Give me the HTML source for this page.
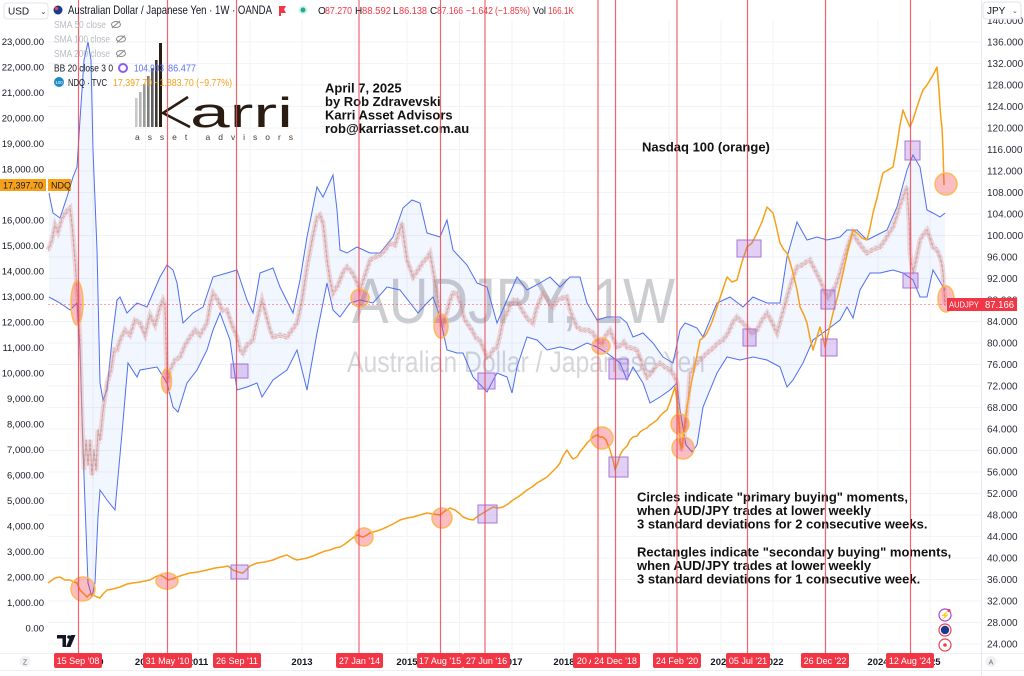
<!DOCTYPE html>
<html><head><meta charset="utf-8"><style>
html,body{margin:0;padding:0;background:#fff;}
body{width:1024px;height:676px;overflow:hidden;}
svg{display:block;font-family:"Liberation Sans",sans-serif;}
</style></head><body>
<svg width="1024" height="676" viewBox="0 0 1024 676" xmlns="http://www.w3.org/2000/svg">
<defs>
<polyline id="aj" fill="none" points="48,250 52,240 55,225 58,232 62,218 66,212 70,208 72,225 75,260 77,290 78,300 80,340 82,420 84,470 86,440 88,465 90,440 92,475 94,450 96,470 98,430 100,440 103,410 107,383 111,370 114,350 117,350 120,340 125,330 130,335 135,320 140,323 145,335 150,315 155,325 160,307 163,300 165,305 167,383 170,370 175,360 180,357 185,345 190,337 195,330 200,335 207,323 210,305 213,293 218,300 222,310 227,310 232,325 237,337 240,350 243,353 247,345 253,340 257,320 262,300 266,315 270,330 273,337 280,335 287,337 292,330 297,323 302,300 307,267 312,240 317,217 320,215 323,223 325,240 327,260 330,280 333,293 338,285 343,272 347,267 352,272 356,280 360,290 365,275 370,260 375,257 380,255 385,250 390,243 395,245 398,235 402,223 404,240 407,260 410,268 413,277 418,270 423,262 427,258 430,253 433,270 437,293 440,315 442,327 446,315 450,300 453,293 457,293 461,305 464,318 467,323 472,330 476,338 480,340 484,350 487,357 490,355 493,350 497,347 500,335 503,320 507,313 510,305 514,300 517,300 522,310 527,318 533,323 536,310 540,300 543,293 547,298 550,305 553,307 557,300 562,298 567,297 570,310 574,320 577,327 582,330 588,330 593,333 597,340 602,343 606,335 610,330 614,340 617,347 621,345 624,342 627,347 632,348 637,350 641,360 644,370 647,377 652,372 656,366 660,363 665,367 670,370 674,375 677,383 679,415 681,450 683,440 685,430 688,400 690,373 695,365 700,360 707,353 713,348 718,343 723,340 728,333 733,322 737,317 742,322 747,327 752,333 757,330 762,320 767,313 772,322 777,333 782,315 787,297 792,280 797,267 802,265 806,262 810,260 815,270 820,280 824,290 828,297 833,290 836,285 840,273 845,255 849,242 853,233 857,240 862,247 867,253 872,250 876,248 880,247 885,240 889,233 893,227 897,215 900,205 903,197 907,187 909,220 910,253 913,273 916,260 920,240 923,235 927,230 930,238 933,247 937,250 940,257 942,265 943,273 944,290 945,304"/>
</defs>

<!-- grid -->
<g stroke="#f1f3f6" stroke-width="1">
<line x1="48" x2="981" y1="644" y2="644"/><line x1="48" x2="981" y1="622.5" y2="622.5"/><line x1="48" x2="981" y1="601" y2="601"/><line x1="48" x2="981" y1="579.5" y2="579.5"/><line x1="48" x2="981" y1="558" y2="558"/><line x1="48" x2="981" y1="536.5" y2="536.5"/><line x1="48" x2="981" y1="515" y2="515"/><line x1="48" x2="981" y1="493.5" y2="493.5"/><line x1="48" x2="981" y1="472" y2="472"/><line x1="48" x2="981" y1="450.5" y2="450.5"/><line x1="48" x2="981" y1="429" y2="429"/><line x1="48" x2="981" y1="407.5" y2="407.5"/><line x1="48" x2="981" y1="386" y2="386"/><line x1="48" x2="981" y1="364.5" y2="364.5"/><line x1="48" x2="981" y1="343" y2="343"/><line x1="48" x2="981" y1="321.5" y2="321.5"/><line x1="48" x2="981" y1="300" y2="300"/><line x1="48" x2="981" y1="278.5" y2="278.5"/><line x1="48" x2="981" y1="257" y2="257"/><line x1="48" x2="981" y1="235.5" y2="235.5"/><line x1="48" x2="981" y1="214" y2="214"/><line x1="48" x2="981" y1="192.5" y2="192.5"/><line x1="48" x2="981" y1="171" y2="171"/><line x1="48" x2="981" y1="149.5" y2="149.5"/><line x1="48" x2="981" y1="128" y2="128"/><line x1="48" x2="981" y1="106.5" y2="106.5"/><line x1="48" x2="981" y1="85" y2="85"/><line x1="48" x2="981" y1="63.5" y2="63.5"/><line x1="48" x2="981" y1="42" y2="42"/>
<line x1="93" x2="93" y1="20" y2="653"/><line x1="145.5" x2="145.5" y1="20" y2="653"/><line x1="198" x2="198" y1="20" y2="653"/><line x1="250" x2="250" y1="20" y2="653"/><line x1="302" x2="302" y1="20" y2="653"/><line x1="355" x2="355" y1="20" y2="653"/><line x1="407" x2="407" y1="20" y2="653"/><line x1="459.5" x2="459.5" y1="20" y2="653"/><line x1="512" x2="512" y1="20" y2="653"/><line x1="564" x2="564" y1="20" y2="653"/><line x1="616" x2="616" y1="20" y2="653"/><line x1="669" x2="669" y1="20" y2="653"/><line x1="721" x2="721" y1="20" y2="653"/><line x1="773" x2="773" y1="20" y2="653"/><line x1="825" x2="825" y1="20" y2="653"/><line x1="878" x2="878" y1="20" y2="653"/><line x1="930" x2="930" y1="20" y2="653"/>
</g>

<!-- watermark -->
<text x="352" y="323" font-size="64" fill="#cccdd0" textLength="323" lengthAdjust="spacingAndGlyphs">AUDJPY, 1W</text>
<text x="347" y="372" font-size="30" fill="#d5d6d9" textLength="358" lengthAdjust="spacingAndGlyphs">Australian Dollar / Japanese Yen</text>

<!-- Bollinger fill -->
<polygon fill="rgba(41,98,255,0.06)" points="49,193 53,213 60,218 67,197 73,177 77,167 80,120 84,60 88,42 91,60 93,150 97,250 100,383 103,400 107,390 112,340 117,300 120,297 127,313 137,303 147,307 160,277 167,265 173,270 177,283 183,323 193,313 203,307 213,277 227,273 237,270 247,300 253,313 260,273 273,268 280,287 293,313 300,280 307,237 317,187 323,197 333,175 337,210 340,250 347,253 357,247 370,253 380,253 393,237 403,208 412,200 420,203 427,233 440,237 447,220 453,250 467,265 477,283 487,287 497,323 507,300 517,277 527,290 540,283 550,277 560,287 570,277 580,277 587,303 597,320 607,317 620,317 627,323 633,337 643,333 653,343 663,357 673,363 680,330 685,323 690,325 697,328 703,337 717,303 730,297 743,307 753,297 767,303 780,303 787,257 797,222 807,240 817,237 827,240 840,237 847,230 857,230 867,240 873,237 887,230 897,207 907,170 913,155 920,167 927,210 933,213 940,217 945,213 945,290 933,270 927,297 920,297 913,280 903,273 893,270 880,273 870,273 860,290 853,318 847,307 840,320 827,330 813,340 803,363 793,380 787,387 780,367 767,360 753,357 740,360 727,357 717,373 703,407 697,445 692,452 686,445 680,410 677,383 670,390 660,397 650,403 643,383 633,367 627,380 620,363 607,353 597,347 587,343 573,350 560,347 547,350 537,340 527,337 517,367 512,393 507,377 497,373 487,392 473,377 463,353 457,353 447,350 440,317 433,297 427,303 418,313 400,290 387,287 373,303 360,300 350,303 340,317 333,310 327,283 317,333 307,390 297,350 287,370 273,380 262,397 257,383 247,387 237,390 230,340 220,313 213,330 207,350 197,370 187,383 178,412 173,407 167,383 157,367 140,370 137,377 128,363 122,433 115,510 107,500 100,490 98,517 95,583 92,597 88,583 83,450 80,350 77,303 70,310 60,303 49,297"/>
<!-- BB upper -->
<polyline fill="none" stroke="#4f6ff0" stroke-width="1" points="49,193 53,213 60,218 67,197 73,177 77,167 80,120 84,60 88,42 91,60 93,150 97,250 100,383 103,400 107,390 112,340 117,300 120,297 127,313 137,303 147,307 160,277 167,265 173,270 177,283 183,323 193,313 203,307 213,277 227,273 237,270 247,300 253,313 260,273 273,268 280,287 293,313 300,280 307,237 317,187 323,197 333,175 337,210 340,250 347,253 357,247 370,253 380,253 393,237 403,208 412,200 420,203 427,233 440,237 447,220 453,250 467,265 477,283 487,287 497,323 507,300 517,277 527,290 540,283 550,277 560,287 570,277 580,277 587,303 597,320 607,317 620,317 627,323 633,337 643,333 653,343 663,357 673,363 680,330 685,323 690,325 697,328 703,337 717,303 730,297 743,307 753,297 767,303 780,303 787,257 797,222 807,240 817,237 827,240 840,237 847,230 857,230 867,240 873,237 887,230 897,207 907,170 913,155 920,167 927,210 933,213 940,217 945,213"/>
<!-- BB lower -->
<polyline fill="none" stroke="#4f6ff0" stroke-width="1" points="49,297 60,303 70,310 77,303 80,350 83,450 88,583 92,597 95,583 98,517 100,490 107,500 115,510 122,433 128,363 137,377 140,370 157,367 167,383 173,407 178,412 187,383 197,370 207,350 213,330 220,313 230,340 237,390 247,387 257,383 262,397 273,380 287,370 297,350 307,390 317,333 327,283 333,310 340,317 350,303 360,300 373,303 387,287 400,290 418,313 427,303 433,297 440,317 447,350 457,353 463,353 473,377 487,392 497,373 507,377 512,393 517,367 527,337 537,340 547,350 560,347 573,350 587,343 597,347 607,353 620,363 627,380 633,367 643,383 650,403 660,397 670,390 677,383 680,410 686,445 692,452 697,445 703,407 717,373 727,357 740,360 753,357 767,360 780,367 787,387 793,380 803,363 813,340 827,330 840,320 847,307 853,318 860,290 870,273 880,273 893,270 903,273 913,280 920,297 927,297 933,270 945,290"/>

<!-- AUDJPY candles approximation -->
<use href="#aj" stroke="rgba(230,160,160,0.18)" stroke-width="1" stroke-dasharray="1 2" transform="translate(0,-5)"/>
<use href="#aj" stroke="rgba(120,195,175,0.3)" stroke-width="1" stroke-dasharray="1 3" transform="translate(1,5)"/>
<use href="#aj" stroke="rgba(230,150,150,0.33)" stroke-width="5"/>
<use href="#aj" stroke="rgba(110,190,170,0.55)" stroke-width="1" stroke-dasharray="2 3" transform="translate(0,-2)"/>
<use href="#aj" stroke="rgba(225,130,130,0.5)" stroke-width="1" stroke-dasharray="3 2" transform="translate(0,2)"/>
<use href="#aj" stroke="rgba(200,140,140,0.45)" stroke-width="0.8"/>

<!-- current price line -->
<line x1="48" x2="981" y1="304.5" y2="304.5" stroke="rgba(242,54,69,0.45)" stroke-width="1" stroke-dasharray="2 2"/>

<!-- NDQ -->
<polyline fill="none" stroke="#f7a01a" stroke-width="1.5" stroke-linejoin="round" points="48,583 55,578 60,577 65,580 70,580 74,582 77,583 80,590 84,594 87,597 90,594 93,595 97,597 100,598 103,594 107,590 113,589 120,587 127,584 133,583 140,582 150,580 155,577 160,575 164,577 168,580 172,579 177,577 183,575 190,573 198,572 207,570 215,568 223,567 228,566 233,570 238,572 243,573 250,566 257,563 265,562 273,560 280,557 287,555 292,558 297,560 302,559 307,558 313,556 320,553 325,551 330,550 335,548 340,547 345,544 350,540 357,535 360,536 363,537 367,535 370,533 380,530 387,527 393,524 400,520 407,518 413,517 420,515 427,513 433,514 440,515 445,511 450,508 455,510 460,514 463,517 468,519 473,520 478,516 483,513 488,510 493,507 498,508 503,507 508,504 513,500 518,497 522,494 527,490 532,487 537,483 542,480 547,477 552,472 557,467 560,463 563,456 567,450 570,455 573,459 577,457 580,452 584,447 587,443 590,440 593,437 597,435 600,437 603,437 606,440 610,450 613,460 615,470 618,462 620,455 623,450 627,446 630,440 633,437 637,436 640,432 643,430 647,428 650,425 653,423 657,420 660,416 663,413 667,410 670,402 673,393 675,387 677,400 679,425 680,443 682,448 684,430 687,407 690,390 693,375 697,355 700,340 704,337 707,333 712,322 717,307 722,292 727,277 732,282 737,280 742,262 747,247 752,243 757,233 762,222 767,207 770,210 773,213 776,225 780,243 784,250 787,253 790,262 793,273 797,290 800,307 804,315 807,323 810,338 813,350 816,340 820,327 823,338 825,347 829,330 833,313 838,295 843,273 848,250 853,230 857,233 862,238 867,240 870,228 873,213 877,198 880,185 883,173 888,170 893,167 897,145 900,125 903,110 906,118 910,127 913,120 917,107 920,98 923,90 927,85 930,80 933,75 937,67 939,90 940,107 941,120 942,127 943,150 944,185"/>

<!-- circles -->
<g fill="rgba(242,54,69,0.33)" stroke="rgba(255,183,77,0.95)" stroke-width="1.5">
<ellipse cx="77" cy="303" rx="6" ry="22"/>
<ellipse cx="166.5" cy="381" rx="5" ry="12"/>
<circle cx="360" cy="298" r="9"/>
<ellipse cx="441" cy="326" rx="7" ry="12"/>
<ellipse cx="601" cy="346" rx="9" ry="8"/>
<ellipse cx="680" cy="424" rx="9" ry="10"/>
<circle cx="683" cy="448" r="11"/>
<ellipse cx="946" cy="299" rx="8" ry="13"/>
<circle cx="83" cy="589" r="12"/>
<ellipse cx="167" cy="581" rx="11" ry="8"/>
<circle cx="364" cy="537" r="9"/>
<circle cx="442" cy="518" r="10"/>
<circle cx="602" cy="438" r="11"/>
<circle cx="946" cy="184" r="11"/>
</g>
<!-- rectangles -->
<g fill="rgba(156,100,214,0.3)" stroke="#a874d8" stroke-width="1">
<rect x="231" y="364" width="17" height="14"/>
<rect x="478" y="373" width="17" height="16"/>
<rect x="609" y="359" width="19" height="20"/>
<rect x="743" y="329" width="13" height="17"/>
<rect x="821" y="290" width="14" height="19"/>
<rect x="903" y="273" width="15" height="15"/>
<rect x="231" y="565" width="17" height="14"/>
<rect x="478" y="505" width="19" height="18"/>
<rect x="609" y="457" width="19" height="20"/>
<rect x="737" y="240" width="24" height="17"/>
<rect x="821" y="339" width="16" height="17"/>
<rect x="905" y="141" width="15" height="19"/>
</g>

<!-- Karri logo -->
<g>
<rect x="135" y="98" width="2.6" height="29" fill="#c9c9c9"/>
<rect x="139" y="92" width="2.6" height="35" fill="#b5b5b5"/>
<rect x="143" y="84" width="2.6" height="43" fill="#9a9a9a"/>
<rect x="147" y="76" width="2.6" height="51" fill="#7d7d7d"/>
<rect x="151" y="68" width="2.6" height="59" fill="#5e5e5e"/>
<rect x="155" y="60" width="2.6" height="67" fill="#403a36"/>
<rect x="159" y="43" width="3" height="84" fill="#2b1c12"/>
<polyline points="188,97 163,113 190,127" fill="none" stroke="#2b1c12" stroke-width="2.6"/>
<text x="190" y="127" font-size="42" fill="#2b1c12" textLength="103" lengthAdjust="spacingAndGlyphs">arri</text>
<text x="135" y="140" font-size="8.5" fill="#4a3a30" textLength="158" lengthAdjust="spacing">asset advisors</text>
</g>

<!-- annotations -->
<g font-weight="bold" font-size="13" fill="#111">
<text x="325" y="92.5">April 7, 2025</text>
<text x="325" y="106">by Rob Zdravevski</text>
<text x="325" y="119.5">Karri Asset Advisors</text>
<text x="325" y="133">rob@karriasset.com.au</text>
<text x="642" y="151.5">Nasdaq 100 (orange)</text>
<text x="637" y="501.5">Circles indicate "primary buying" moments,</text>
<text x="637" y="515">when AUD/JPY trades at lower weekly</text>
<text x="637" y="528.5">3 standard deviations for 2 consecutive weeks.</text>
<text x="637" y="556.5">Rectangles indicate "secondary buying" moments,</text>
<text x="637" y="570">when AUD/JPY trades at lower weekly</text>
<text x="637" y="583.5">3 standard deviations for 1 consecutive week.</text>
</g>

<!-- vertical red lines -->
<g stroke="#ee4a55" stroke-width="1.2" opacity="0.85">
<line x1="78.5" x2="78.5" y1="0" y2="654"/><line x1="167.5" x2="167.5" y1="0" y2="654"/><line x1="236.5" x2="236.5" y1="0" y2="654"/><line x1="359" x2="359" y1="0" y2="654"/><line x1="440.5" x2="440.5" y1="0" y2="654"/><line x1="485" x2="485" y1="0" y2="654"/><line x1="598" x2="598" y1="0" y2="654"/><line x1="615.5" x2="615.5" y1="0" y2="654"/><line x1="677" x2="677" y1="0" y2="654"/><line x1="747.5" x2="747.5" y1="0" y2="654"/><line x1="825.5" x2="825.5" y1="0" y2="654"/><line x1="910.5" x2="910.5" y1="0" y2="654"/>
</g>

<!-- header -->
<rect x="4" y="3" width="44" height="16" rx="3" fill="#fff" stroke="#e0e3eb"/>
<text x="8" y="14.5" font-size="10" fill="#131722">USD</text>
<text x="40" y="14" font-size="8" fill="#555">⌄</text>
<circle cx="58" cy="10" r="4.5" fill="#1a3a8c"/><circle cx="56.5" cy="8.5" r="1.8" fill="#e8434f"/>
<text x="68" y="14" font-size="12" fill="#131722" textLength="204" lengthAdjust="spacingAndGlyphs">Australian Dollar / Japanese Yen · 1W · OANDA</text>
<path d="M279,6 L286,6 L284,9.5 L286,13 L281,13 L281,16 L279,16 Z" fill="#f23645"/>
<circle cx="303" cy="10" r="4.5" fill="#d6f3e6"/><circle cx="303" cy="10" r="2.5" fill="#22ab94"/>
<g font-size="10">
<text x="318" y="14" fill="#131722">O</text><text x="325" y="14" fill="#f23645" textLength="27" lengthAdjust="spacingAndGlyphs">87.270</text>
<text x="355" y="14" fill="#131722">H</text><text x="362" y="14" fill="#f23645" textLength="29" lengthAdjust="spacingAndGlyphs">88.592</text>
<text x="393" y="14" fill="#131722">L</text><text x="399" y="14" fill="#f23645" textLength="28" lengthAdjust="spacingAndGlyphs">86.138</text>
<text x="430" y="14" fill="#131722">C</text><text x="437" y="14" fill="#f23645" textLength="26" lengthAdjust="spacingAndGlyphs">87.166</text>
<text x="466" y="14" fill="#f23645" textLength="27" lengthAdjust="spacingAndGlyphs">−1.642</text><text x="495" y="14" fill="#f23645" textLength="35" lengthAdjust="spacingAndGlyphs">(−1.85%)</text>
<text x="533" y="14" fill="#131722" textLength="13" lengthAdjust="spacingAndGlyphs">Vol</text><text x="548" y="14" fill="#f23645" textLength="26" lengthAdjust="spacingAndGlyphs">166.1K</text>
</g>
<!-- legend -->
<g font-size="10">
<text x="54" y="28" fill="#b8bbc4" textLength="52" lengthAdjust="spacingAndGlyphs">SMA 50 close</text>
<text x="54" y="42.5" fill="#b8bbc4" textLength="56" lengthAdjust="spacingAndGlyphs">SMA 100 close</text>
<text x="54" y="57" fill="#b8bbc4" textLength="56" lengthAdjust="spacingAndGlyphs">SMA 200 close</text>
<text x="54" y="71.5" fill="#131722" textLength="59" lengthAdjust="spacingAndGlyphs">BB 20 close 3 0</text>
<text x="134" y="71.5" fill="#5b72f0" textLength="30" lengthAdjust="spacingAndGlyphs">104.903</text><text x="168" y="71.5" fill="#5b72f0" textLength="28" lengthAdjust="spacingAndGlyphs">86.477</text>
<text x="68" y="86" fill="#131722" textLength="39" lengthAdjust="spacingAndGlyphs">NDQ · TVC</text>
<text x="113" y="86" fill="#f7a01a" textLength="119" lengthAdjust="spacingAndGlyphs">17,397.70 −1,883.70 (−9.77%)</text>
</g>
<g fill="none" stroke="#888" stroke-width="1">
<ellipse cx="116" cy="24.5" rx="4.5" ry="3"/><line x1="112" y1="28" x2="120" y2="21"/>
<ellipse cx="121" cy="39" rx="4.5" ry="3"/><line x1="117" y1="42.5" x2="125" y2="35.5"/>
<ellipse cx="121" cy="53.5" rx="4.5" ry="3"/><line x1="117" y1="57" x2="125" y2="50"/>
</g>
<circle cx="123" cy="68" r="4" fill="none" stroke="#8e5cf0" stroke-width="2"/>
<circle cx="59" cy="82" r="5" fill="#1e88c8"/><text x="59" y="84" font-size="4.5" fill="#fff" text-anchor="middle">100</text>

<!-- axis borders -->
<line x1="981.5" x2="981.5" y1="0" y2="676" stroke="#e6e8ee"/>
<line x1="0" x2="1024" y1="653.5" y2="653.5" stroke="#eceef2"/>
<line x1="0" x2="1024" y1="670.5" y2="670.5" stroke="#eceef2"/>

<!-- left axis labels -->
<g font-size="9.5" fill="#131722" text-anchor="end">
<text x="44" y="631.5">0.00</text><text x="44" y="606">1,000.00</text><text x="44" y="580.5">2,000.00</text><text x="44" y="555">3,000.00</text><text x="44" y="529.5">4,000.00</text><text x="44" y="504">5,000.00</text><text x="44" y="478.5">6,000.00</text><text x="44" y="453">7,000.00</text><text x="44" y="427.5">8,000.00</text><text x="44" y="402">9,000.00</text><text x="44" y="376.5">10,000.00</text><text x="44" y="351">11,000.00</text><text x="44" y="325.5">12,000.00</text><text x="44" y="300">13,000.00</text><text x="44" y="274.5">14,000.00</text><text x="44" y="249">15,000.00</text><text x="44" y="223.5">16,000.00</text><text x="44" y="172.5">18,000.00</text><text x="44" y="147">19,000.00</text><text x="44" y="121.5">20,000.00</text><text x="44" y="96">21,000.00</text><text x="44" y="70.5">22,000.00</text><text x="44" y="45">23,000.00</text>
</g>
<!-- NDQ price label -->
<rect x="0" y="179" width="46" height="12" fill="#f7a01a"/>
<text x="3" y="188.5" font-size="9" fill="#1a1a1a">17,397.70</text>
<rect x="48" y="179" width="23" height="12" fill="#f7a01a"/>
<text x="51" y="188.5" font-size="9" fill="#1a1a1a">NDQ</text>

<!-- right axis labels -->
<g font-size="10" fill="#2a2e39">
<text x="987" y="24">140.000</text><text x="987" y="45.5">136.000</text><text x="987" y="67">132.000</text><text x="987" y="88.5">128.000</text><text x="987" y="110">124.000</text><text x="987" y="131.5">120.000</text><text x="987" y="153">116.000</text><text x="987" y="174.5">112.000</text><text x="987" y="196">108.000</text><text x="987" y="217.5">104.000</text><text x="987" y="239">100.000</text><text x="987" y="260.5">96.000</text><text x="987" y="282">92.000</text><text x="987" y="303.5">88.000</text><text x="987" y="325">84.000</text><text x="987" y="346.5">80.000</text><text x="987" y="368">76.000</text><text x="987" y="389.5">72.000</text><text x="987" y="411">68.000</text><text x="987" y="432.5">64.000</text><text x="987" y="454">60.000</text><text x="987" y="475.5">56.000</text><text x="987" y="497">52.000</text><text x="987" y="518.5">48.000</text><text x="987" y="540">44.000</text><text x="987" y="561.5">40.000</text><text x="987" y="583">36.000</text><text x="987" y="604.5">32.000</text><text x="987" y="626">28.000</text><text x="987" y="647.5">24.000</text>
</g>
<rect x="983" y="2" width="38" height="17" rx="3" fill="#fff" stroke="#e0e3eb"/>
<text x="987" y="14" font-size="10" fill="#131722">JPY</text>
<text x="1012" y="13" font-size="7" fill="#555">⌄</text>
<!-- AUDJPY label -->
<rect x="947" y="298" width="34" height="13" fill="#f23645"/>
<text x="949" y="307.5" font-size="8.5" fill="#fff" textLength="30" lengthAdjust="spacingAndGlyphs">AUDJPY</text>
<rect x="981" y="298" width="36" height="13" fill="#f23645"/>
<text x="985" y="308" font-size="10" fill="#fff" textLength="29" lengthAdjust="spacingAndGlyphs">87.166</text>

<!-- bottom icons -->
<circle cx="945" cy="615" r="6" fill="#fff" stroke="#a742d8" stroke-width="1.2"/>
<text x="945" y="618" font-size="8" fill="#a742d8" text-anchor="middle">⚡</text>
<circle cx="949" cy="610.5" r="1.5" fill="#f23645"/>
<circle cx="945" cy="630" r="6" fill="#fff" stroke="#e8434f" stroke-width="1.2"/>
<circle cx="945" cy="630" r="4.2" fill="#1a3a8c"/>
<circle cx="945" cy="645" r="6" fill="#fff" stroke="#e8434f" stroke-width="1.2"/>
<circle cx="945" cy="645" r="1.8" fill="#e8434f"/>

<!-- TV logo -->
<path d="M57,635 h9 v12 h-3.5 v-8.5 h-5.5 z" fill="#131722"/>
<circle cx="69" cy="637" r="1.8" fill="#131722"/>
<path d="M71,635 h4.5 l-5,12 h-4.5 z" fill="#131722"/>

<!-- bottom axis -->
<circle cx="25" cy="661.5" r="5.5" fill="#f0f1f4"/>
<text x="25" y="664.5" font-size="7" fill="#666" text-anchor="middle">Z</text>
<circle cx="991" cy="661.5" r="5.5" fill="#f0f1f4"/>
<text x="991" y="664.5" font-size="7" fill="#666" text-anchor="middle">A</text>
<g font-size="9.5" font-weight="bold" fill="#131722" text-anchor="middle">
<text x="93" y="665">2009</text><text x="145.5" y="665">2010</text><text x="198" y="665">2011</text><text x="250" y="665">2012</text><text x="302" y="665">2013</text><text x="355" y="665">2014</text><text x="407" y="665">2015</text><text x="459.5" y="665">2016</text><text x="512" y="665">2017</text><text x="564" y="665">2018</text><text x="616" y="665">2019</text><text x="669" y="665">2020</text><text x="721" y="665">2021</text><text x="773" y="665">2022</text><text x="825" y="665">2023</text><text x="878" y="665">2024</text><text x="930" y="665">2025</text>
</g>
<g fill="#f23645">
<rect x="54" y="653" width="48" height="15" rx="2"/>
<rect x="143" y="653" width="49" height="15" rx="2"/>
<rect x="213" y="653" width="48" height="15" rx="2"/>
<rect x="336" y="653" width="47" height="15" rx="2"/>
<rect x="417" y="653" width="46" height="15" rx="2"/>
<rect x="463" y="653" width="47" height="15" rx="2"/>
<rect x="573" y="653" width="50" height="15" rx="2"/>
</g>
<g font-size="9" fill="#fff" text-anchor="middle">
<text x="78" y="664">15 Sep '08</text>
<text x="167.5" y="664">31 May '10</text>
<text x="237" y="664">26 Sep '11</text>
<text x="359.5" y="664">27 Jan '14</text>
<text x="440" y="664">17 Aug '15</text>
<text x="486.5" y="664">27 Jun '16</text>
<text x="598" y="664">20 Aug '18</text>
</g>
<g fill="#f23645">
<rect x="591" y="653" width="49" height="15" rx="2"/>
<rect x="653" y="653" width="48" height="15" rx="2"/>
<rect x="726" y="653" width="44" height="15" rx="2"/>
<rect x="801" y="653" width="48" height="15" rx="2"/>
<rect x="886" y="653" width="48" height="15" rx="2"/>
</g>
<g font-size="9" fill="#fff" text-anchor="middle">
<text x="615.5" y="664">24 Dec '18</text>
<text x="677" y="664">24 Feb '20</text>
<text x="748" y="664">05 Jul '21</text>
<text x="825" y="664">26 Dec '22</text>
<text x="910" y="664">12 Aug '24</text>
</g>
</svg>
</body></html>
